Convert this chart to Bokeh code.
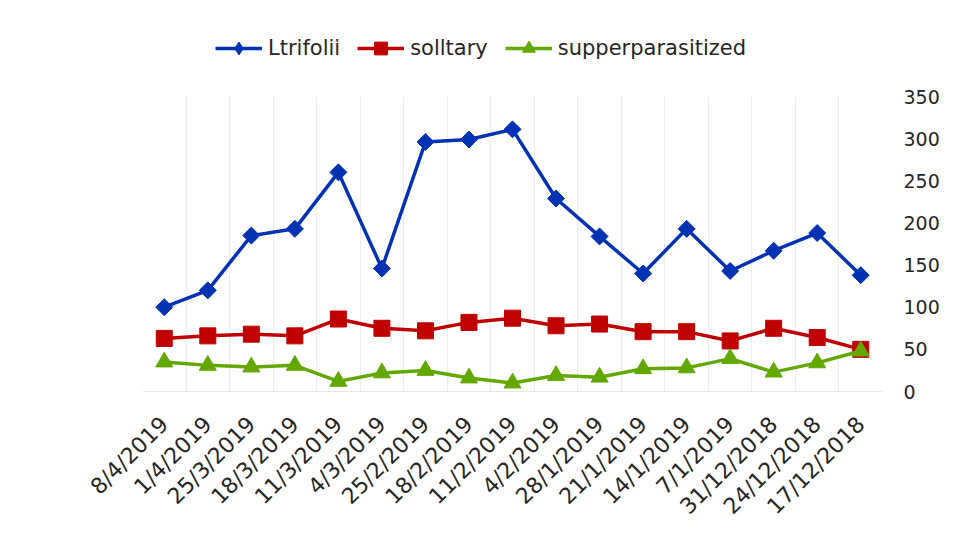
import math
from bokeh.plotting import figure
from bokeh.layouts import column
from bokeh.models import FixedTicker, Legend, LegendItem
from bokeh.embed import file_html
from bokeh.resources import INLINE

dates = ["8/4/2019", "1/4/2019", "25/3/2019", "18/3/2019", "11/3/2019", "4/3/2019",
         "25/2/2019", "18/2/2019", "11/2/2019", "4/2/2019", "28/1/2019", "21/1/2019",
         "14/1/2019", "7/1/2019", "31/12/2018", "24/12/2018", "17/12/2018"]
ltrifolii = [100, 120, 185, 193, 260, 146, 296, 299, 311, 229, 184, 140, 193, 143, 167, 188, 138]
solltary = [63, 66, 68, 66, 86, 75, 72, 82, 87, 78, 80, 71, 71, 60, 75, 64, 50]
supperparasitized = [35, 31, 29, 31, 12, 22, 25, 16, 10, 19, 17, 27, 28, 39, 23, 34, 48]
y_ticks = [0, 50, 100, 150, 200, 250, 300, 350]
series_names = ["Ltrifolii", "solltary", "supperparasitized"]

BLUE = "#0232B4"
RED = "#C00000"
GREEN = "#62A800"
TEXT = "#262626"

styles = [
    (BLUE, dict(marker="square", angle=math.pi / 4, size=12)),
    (RED, dict(marker="square", size=16)),
    (GREEN, dict(marker="triangle", size=17)),
]
legend_markers = [
    dict(marker="diamond", size=16),
    dict(marker="square", size=16),
    dict(marker="triangle", size=17),
]
series = [ltrifolii, solltary, supperparasitized]

x = list(range(len(dates)))

# ---- main chart ----
p = figure(width=950, height=461, output_backend="svg", toolbar_location=None,
           x_range=(-0.5, len(dates) - 0.5), y_range=(0, 350),
           y_axis_location="right",
           min_border_left=142, min_border_right=68, min_border_top=26, min_border_bottom=140)
p.outline_line_color = None
p.background_fill_color = "white"
p.border_fill_color = "white"

p.ygrid.grid_line_color = None
p.xgrid.ticker = FixedTicker(ticks=[i - 0.5 for i in range(len(dates) + 1)])
p.xgrid.grid_line_color = "#ececec"
p.xgrid.grid_line_width = 1

xa = p.xaxis[0]
xa.ticker = FixedTicker(ticks=x)
xa.major_label_overrides = {i: d for i, d in enumerate(dates)}
xa.major_label_orientation = math.pi / 4
xa.major_label_text_font = "DejaVu Sans"
xa.major_label_text_font_size = "22px"
xa.major_label_text_color = TEXT
xa.axis_line_color = "#e6e6e6"
xa.major_tick_line_color = None
xa.minor_tick_line_color = None
xa.major_tick_out = 0
xa.major_label_standoff = 29

ya = p.yaxis[0]
ya.ticker = FixedTicker(ticks=y_ticks)
ya.major_label_text_font = "DejaVu Sans"
ya.major_label_text_font_size = "19px"
ya.major_label_text_color = TEXT
ya.axis_line_color = None
ya.major_tick_line_color = None
ya.minor_tick_line_color = None
ya.major_tick_out = 0
ya.major_label_standoff = 21

for vals, (col, mk) in zip(series, styles):
    p.line(x, vals, line_color=col, line_width=3.5)
    p.scatter(x, vals, color=col, **mk)

# ---- legend strip (its renderers share the data but lie outside its view) ----
lf = figure(width=950, height=70, output_backend="svg", toolbar_location=None,
            x_range=(0, 1), y_range=(-2, -1),
            min_border_left=0, min_border_right=0, min_border_top=0, min_border_bottom=0)
lf.axis.visible = False
lf.grid.visible = False
lf.outline_line_color = None

items = []
for name, vals, (col, _), lmk in zip(series_names, series, styles, legend_markers):
    lr = lf.line(x, vals, line_color=col, line_width=3.5)
    sr = lf.scatter(x, vals, color=col, **lmk)
    items.append(LegendItem(label=name, renderers=[lr, sr]))

legend = Legend(items=items, orientation="horizontal", location=(73, 6))
legend.border_line_color = None
legend.background_fill_alpha = 0
legend.padding = 0
legend.margin = 0
legend.glyph_width = 47
legend.glyph_height = 32
legend.label_standoff = 6
legend.spacing = 17
legend.label_text_font = "DejaVu Sans"
legend.label_text_font_size = "21px"
legend.label_text_color = TEXT
lf.add_layout(legend, "center")

layout = column(lf, p)
open("out.html", "w").write(file_html(layout, INLINE))
